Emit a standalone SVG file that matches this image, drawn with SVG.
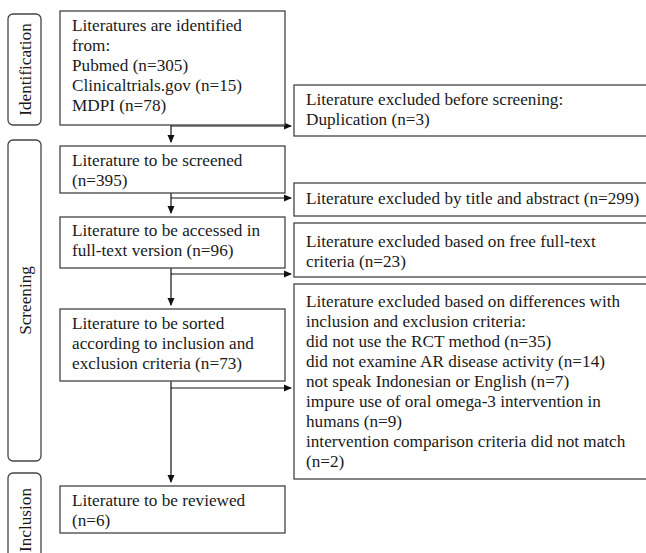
<svg xmlns="http://www.w3.org/2000/svg" width="646" height="553" viewBox="0 0 646 553">
<style>
.box{fill:#fff;stroke:#444;stroke-width:1.3}
.side{fill:#fff;stroke:#444;stroke-width:1.3}
.c{fill:none;stroke:#111;stroke-width:1.2}
</style>
<defs>
<marker id="ah" markerWidth="8" markerHeight="8" refX="7" refY="4" orient="auto" markerUnits="userSpaceOnUse">
<path d="M0,0.5 L8,4 L0,7.5 Z" fill="#111"/>
</marker>
</defs>
<rect width="646" height="553" fill="#fff"/>
<g font-family="Liberation Serif, Times New Roman, DejaVu Serif, serif" font-size="17.2" fill="#1a1a1a">
<g id="stage-identification">
<rect class="side" x="8" y="14" width="33" height="111" rx="5"/>
<text transform="translate(31,69.5) rotate(-90)" text-anchor="middle">Identification</text>
</g>
<g id="stage-screening">
<rect class="side" x="8" y="140" width="33" height="321" rx="5"/>
<text transform="translate(31,300.5) rotate(-90)" text-anchor="middle">Screening</text>
</g>
<g id="stage-inclusion">
<rect class="side" x="8" y="473" width="33" height="100" rx="5"/>
<text transform="translate(31,520) rotate(-90)" text-anchor="middle">Inclusion</text>
</g>

<g id="connectors">
<path class="c" d="M171,125 V142" marker-end="url(#ah)"/>
<path class="c" d="M171,126 H291" marker-end="url(#ah)"/>
<path class="c" d="M171,193 V213" marker-end="url(#ah)"/>
<path class="c" d="M171,198 H291" marker-end="url(#ah)"/>
<path class="c" d="M171,268 V305" marker-end="url(#ah)"/>
<path class="c" d="M171,274 H291" marker-end="url(#ah)"/>
<path class="c" d="M171,381 V482" marker-end="url(#ah)"/>
<path class="c" d="M171,388 H291" marker-end="url(#ah)"/>
</g>

<g id="identified">
<rect class="box" x="60" y="11" width="225" height="114"/>
<text x="72" y="31">Literatures are identified</text>
<text x="72" y="51">from:</text>
<text x="72" y="71">Pubmed (n=305)</text>
<text x="72" y="91">Clinicaltrials.gov (n=15)</text>
<text x="72" y="111">MDPI (n=78)</text>
</g>
<g id="excluded-duplication">
<rect class="box" x="294" y="85" width="360" height="51"/>
<text x="306" y="105">Literature excluded before screening:</text>
<text x="306" y="125">Duplication (n=3)</text>
</g>
<g id="screened">
<rect class="box" x="60" y="146" width="225" height="47"/>
<text x="72" y="166">Literature to be screened</text>
<text x="72" y="186">(n=395)</text>
</g>
<g id="excluded-title">
<rect class="box" x="294" y="183" width="360" height="33"/>
<text x="306" y="204">Literature excluded by title and abstract (n=299)</text>
</g>
<g id="fulltext">
<rect class="box" x="60" y="217" width="225" height="51"/>
<text x="72" y="236">Literature to be accessed in</text>
<text x="72" y="256">full-text version (n=96)</text>
</g>
<g id="excluded-fulltext">
<rect class="box" x="294" y="223" width="360" height="54"/>
<text x="306" y="247">Literature excluded based on free full-text</text>
<text x="306" y="267">criteria (n=23)</text>
</g>
<g id="sorted">
<rect class="box" x="60" y="309" width="225" height="72"/>
<text x="72" y="329">Literature to be sorted</text>
<text x="72" y="349">according to inclusion and</text>
<text x="72" y="369">exclusion criteria (n=73)</text>
</g>
<g id="excluded-criteria">
<rect class="box" x="294" y="284" width="360" height="195"/>
<text x="306" y="307">Literature excluded based on differences with</text>
<text x="306" y="327">inclusion and exclusion criteria:</text>
<text x="306" y="347">did not use the RCT method (n=35)</text>
<text x="306" y="367">did not examine AR disease activity (n=14)</text>
<text x="306" y="387">not speak Indonesian or English (n=7)</text>
<text x="306" y="407">impure use of oral omega-3 intervention in</text>
<text x="306" y="427">humans (n=9)</text>
<text x="306" y="447">intervention comparison criteria did not match</text>
<text x="306" y="467">(n=2)</text>
</g>
<g id="reviewed">
<rect class="box" x="60" y="486" width="225" height="47"/>
<text x="72" y="506">Literature to be reviewed</text>
<text x="72" y="526">(n=6)</text>
</g>
</g>
</svg>
